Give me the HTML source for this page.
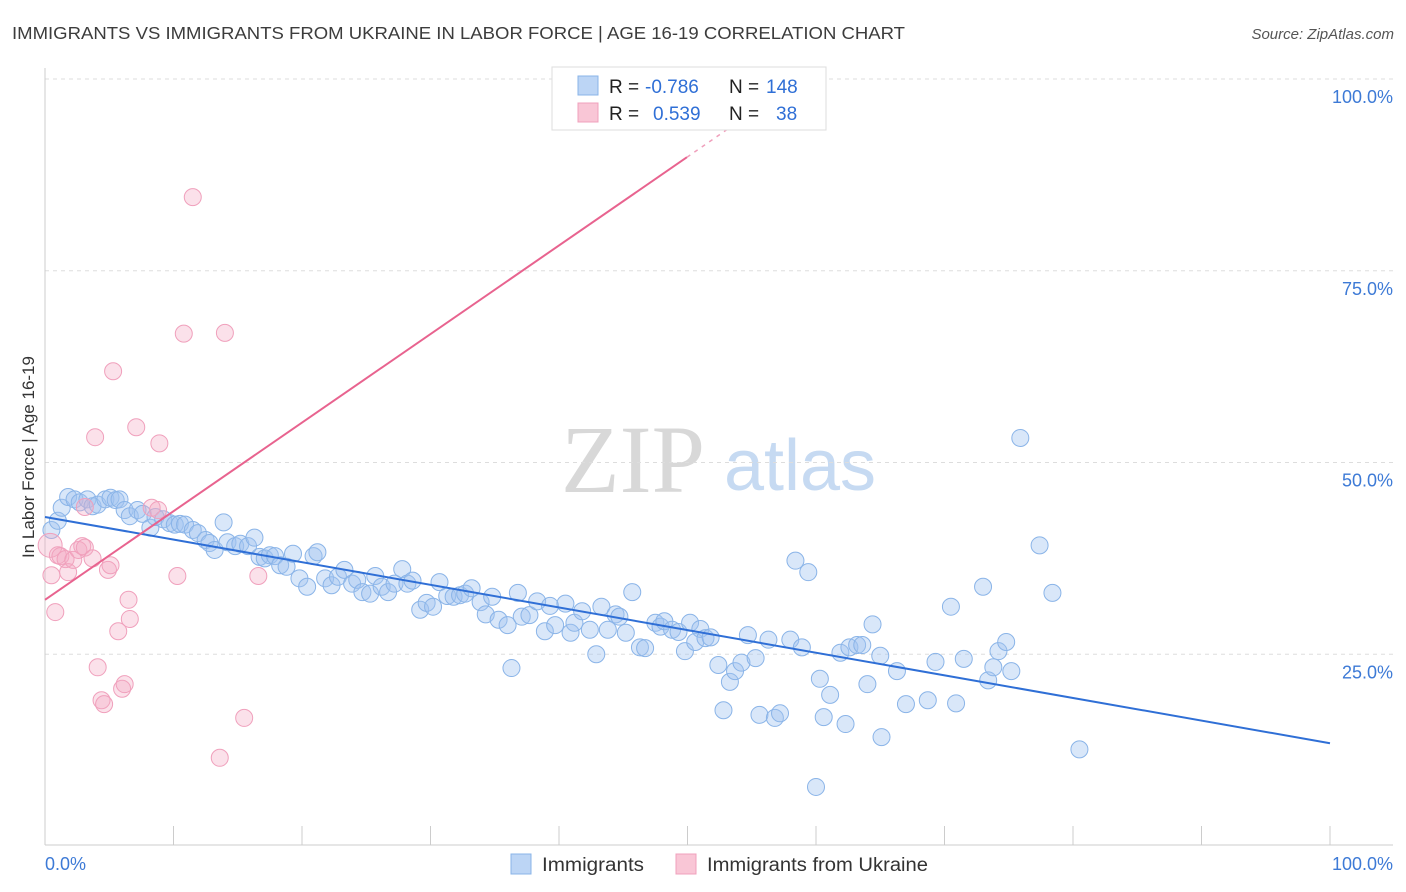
<!DOCTYPE html>
<html><head><meta charset="utf-8"><style>
body{margin:0;background:#fff;font-family:"Liberation Sans",sans-serif;}
svg{display:block}
</style></head><body>
<svg id="chart" width="1406" height="892" xmlns="http://www.w3.org/2000/svg">
<text x="12" y="39" font-size="17.5" fill="#3c3c3c" textLength="893" lengthAdjust="spacingAndGlyphs">IMMIGRANTS VS IMMIGRANTS FROM UKRAINE IN LABOR FORCE | AGE 16-19 CORRELATION CHART</text>
<text x="1394" y="39" font-size="15" fill="#555" font-style="italic" text-anchor="end">Source: ZipAtlas.com</text>
<text transform="translate(34,457) rotate(-90)" font-size="17" fill="#333" text-anchor="middle">In Labor Force | Age 16-19</text>
<g>
<text x="633" y="492" font-size="96" font-family="Liberation Serif,serif" fill="#d8d8d8" text-anchor="middle">ZIP</text>
<text x="800" y="490" font-size="72" fill="#c6daf2" text-anchor="middle">atlas</text>
</g>
<g id="grid"></g><g id="axes"></g><g id="pts"></g><g id="lines"></g>
<g>
<rect x="552" y="67" width="274" height="63" fill="#fff" stroke="#ddd"/>
<rect x="578" y="76" width="20" height="19" fill="#bcd5f5" stroke="#8ab4e8"/>
<rect x="578" y="103" width="20" height="19" fill="#f9c6d6" stroke="#f0a0bc"/>
<text x="609" y="93" font-size="19" fill="#222">R = <tspan fill="#2f6fd6" x="645">-0.786</tspan></text>
<text x="729" y="93" font-size="19" fill="#222">N = <tspan fill="#2f6fd6" x="766">148</tspan></text>
<text x="609" y="120" font-size="19" fill="#222">R = <tspan fill="#2f6fd6" x="653">0.539</tspan></text>
<text x="729" y="120" font-size="19" fill="#222">N = <tspan fill="#2f6fd6" x="776">38</tspan></text>
</g>
<g>
<rect x="511" y="854" width="20" height="20" fill="#bcd5f5" stroke="#8ab4e8"/>
<text x="542" y="871" font-size="19" fill="#333" textLength="102" lengthAdjust="spacingAndGlyphs">Immigrants</text>
<rect x="676" y="854" width="20" height="20" fill="#f9c6d6" stroke="#f0a0bc"/>
<text x="707" y="871" font-size="19" fill="#333" textLength="221" lengthAdjust="spacingAndGlyphs">Immigrants from Ukraine</text>
</g>
</svg>
<script>
const yTicks=[25,50,75,100];
const yTickLabels=["25.0%","50.0%","75.0%","100.0%"];
const blueX=[0.5,1.0,1.3,1.8,2.3,2.7,3.3,3.7,4.1,4.7,5.1,5.5,5.8,6.2,6.6,7.2,7.6,8.2,8.6,9.2,9.7,10.1,10.5,10.9,11.5,11.9,12.5,12.8,13.2,13.9,14.2,14.8,15.2,15.8,16.3,16.7,17.1,17.5,17.9,18.3,18.8,19.3,19.8,20.4,20.9,21.2,21.8,22.3,22.8,23.3,23.9,24.3,24.7,25.3,25.7,26.2,26.7,27.2,27.8,28.2,28.6,29.2,29.7,30.2,30.7,31.3,31.8,32.3,32.7,33.2,33.9,34.3,34.8,35.3,36.0,36.3,36.8,37.1,37.7,38.3,38.9,39.3,39.7,40.5,40.9,41.2,41.8,42.4,42.9,43.3,43.8,44.4,44.7,45.2,45.7,46.3,46.7,47.5,47.9,48.2,48.8,49.3,49.8,50.2,50.6,51.0,51.4,51.8,52.4,52.8,53.3,53.7,54.2,54.7,55.3,55.6,56.3,56.8,57.2,58.0,58.4,58.9,59.4,60.0,60.3,60.6,61.1,61.9,62.3,62.6,63.2,63.6,64.0,64.4,65.0,65.1,66.3,67.0,68.7,69.3,70.5,70.9,71.5,73.0,73.4,73.8,74.2,74.8,75.2,75.9,77.4,78.4,80.5];
const blueY=[41.2,42.4,44.1,45.5,45.2,44.8,45.2,44.3,44.5,45.2,45.4,45.1,45.2,43.8,43.0,43.8,43.3,41.5,42.9,42.6,42.1,41.9,42.0,41.9,41.2,40.8,39.9,39.5,38.6,42.2,39.6,39.1,39.4,39.1,40.2,37.7,37.5,37.9,37.8,36.6,36.4,38.1,34.9,33.8,37.8,38.3,34.9,34.0,35.1,36.0,34.2,34.7,33.1,32.9,35.2,33.8,33.1,34.2,36.1,34.2,34.6,30.8,31.7,31.2,34.4,32.6,32.5,32.7,32.9,33.6,31.8,30.2,32.5,29.5,28.8,23.2,33.0,29.9,30.1,31.9,28.0,31.3,28.8,31.6,27.8,29.1,30.6,28.2,25.0,31.2,28.2,30.2,29.9,27.8,33.1,25.9,25.8,29.1,28.6,29.3,28.2,27.9,25.4,29.1,26.6,28.3,27.1,27.2,23.6,17.7,21.4,22.8,23.9,27.5,24.5,17.1,26.9,16.7,17.3,26.9,37.2,25.9,35.7,7.7,21.8,16.8,19.7,25.2,15.9,25.9,26.2,26.2,21.1,28.9,24.8,14.2,22.8,18.5,19.0,24.0,31.2,18.6,24.4,33.8,21.6,23.3,25.4,26.6,22.8,53.2,39.2,33.0,12.6];
const pinkX=[0.4,0.5,0.8,1.0,1.2,1.6,1.8,2.2,2.6,2.9,3.1,3.7,3.9,4.1,4.4,4.6,4.9,5.1,5.3,5.7,6.0,6.2,6.5,6.6,7.1,8.3,8.8,8.9,10.3,10.8,11.5,13.6,14.0,15.5,16.6,3.1];
const pinkY=[39.2,35.3,30.5,37.9,37.8,37.4,35.7,37.3,38.6,39.1,38.9,37.5,53.3,23.3,19.0,18.5,36.0,36.6,61.9,28.0,20.5,21.1,32.1,29.6,54.6,44.1,43.8,52.5,35.2,66.8,84.6,11.5,66.9,16.7,35.2,44.2];
const blueTrend=[42.9,-0.295];
const pinkTrend=[32.1,1.155];
const X0=45,X1=1330,Y0=846,Y100=79;
const sx=v=>X0+(X1-X0)*v/100, sy=v=>Y0-(Y0-Y100)*v/100;
const NS="http://www.w3.org/2000/svg";
function mk(tag,attrs,parent){const e=document.createElementNS(NS,tag);for(const k in attrs)e.setAttribute(k,attrs[k]);document.getElementById(parent).appendChild(e);return e;}
yTicks.forEach((t,i)=>{
 const g=mk('line',{x1:45,x2:1393,y1:sy(t),y2:sy(t),stroke:'#ddd','stroke-dasharray':'4,4'},'grid');
 
 
 const l=mk('text',{x:1393,y:sy(t)+24,'font-size':18,fill:'#3d7ad6','text-anchor':'end'},'grid');
 l.textContent=yTickLabels[i];
 
 
});
const ax=mk('line',{x1:45,x2:1393,y1:845,y2:845,stroke:'#ccc'},'axes');


const ay=mk('line',{x1:45,x2:45,y1:68,y2:845,stroke:'#ccc'},'axes');


for(let i=0;i<=10;i++){const t=mk('line',{x1:sx(i*10),x2:sx(i*10),y1:826,y2:845,stroke:'#ccc'},'axes');
 
 }
const xl=mk('text',{x:45,y:870,'font-size':18,fill:'#3d7ad6'},'axes');xl.textContent='0.0%';


const xr=mk('text',{x:1393,y:870,'font-size':18,fill:'#3d7ad6','text-anchor':'end'},'axes');xr.textContent='100.0%';


blueX.forEach((v,i)=>{const c=mk('circle',{cx:sx(v),cy:sy(blueY[i]),r:8.5,fill:'rgba(160,196,240,0.4)',stroke:'#8ab4e8','stroke-width':1},'pts');
 
 });
pinkX.forEach((v,i)=>{const c=mk('circle',{cx:sx(v),cy:sy(pinkY[i]),r:i==0?12:8.5,fill:'rgba(244,170,195,0.35)',stroke:'#f0a0bc','stroke-width':1},'pts');
 
 });
const bl=mk('line',{x1:sx(0),y1:sy(blueTrend[0]),x2:sx(100),y2:sy(blueTrend[0]+100*blueTrend[1]),stroke:'#2f6fd6','stroke-width':2},'lines');


const xe=(89.8-pinkTrend[0])/pinkTrend[1];
const pl=mk('line',{x1:sx(0),y1:sy(pinkTrend[0]),x2:sx(xe),y2:sy(pinkTrend[0]+xe*pinkTrend[1]),stroke:'#e8638f','stroke-width':2},'lines');


const xd=(100-pinkTrend[0])/pinkTrend[1];
const pd=mk('line',{x1:sx(xe),y1:sy(pinkTrend[0]+xe*pinkTrend[1]),x2:sx(xd),y2:sy(100),stroke:'#f0a0bc','stroke-width':1.5,'stroke-dasharray':'4,5'},'lines');


</script>
</body></html>
